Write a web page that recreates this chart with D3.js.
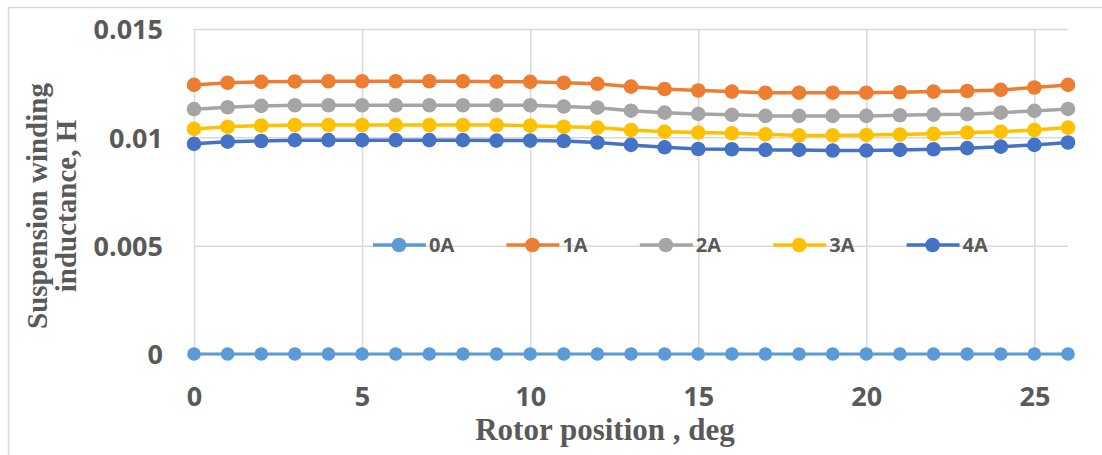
<!DOCTYPE html>
<html>
<head>
<meta charset="utf-8">
<script src="https://cdn.jsdelivr.net/npm/d3@7"></script>
<style>
  body { margin: 0; background: #fff; }
  .tick text { font-family: "Open Sans", sans-serif; font-weight: 700; fill: #595959; }
</style>
</head>
<body>
<svg id="chart" width="1102" height="455"></svg>
<script>
// rotor position, deg
const positions = [0, 1, 2, 3, 4, 5, 6, 7, 8, 9, 10, 11, 12, 13, 14, 15, 16, 17, 18, 19, 20, 21, 22, 23, 24, 25, 26];

const series_names = ["0A", "1A", "2A", "3A", "4A"];
const series_colors = ["#5b9bd5", "#ed7d31", "#a5a5a5", "#ffc000", "#4472c4"];

const values_0A = [0, 0, 0, 0, 0, 0, 0, 0, 0, 0, 0, 0, 0, 0, 0, 0, 0, 0, 0, 0, 0, 0, 0, 0, 0, 0, 0];
const values_1A = [0.01242, 0.01252, 0.01256, 0.01258, 0.01259, 0.01259, 0.01259, 0.01259, 0.01259, 0.01257, 0.01256, 0.01252, 0.01247, 0.01234, 0.01223, 0.01216, 0.01211, 0.01206, 0.01206, 0.01206, 0.01206, 0.01208, 0.01211, 0.01214, 0.01219, 0.0123, 0.01242];
const values_2A = [0.0113, 0.01139, 0.01145, 0.01148, 0.01148, 0.01148, 0.01148, 0.01148, 0.01148, 0.01148, 0.01148, 0.01142, 0.01137, 0.01123, 0.01114, 0.01108, 0.01104, 0.01099, 0.01099, 0.01099, 0.01099, 0.01102, 0.01105, 0.01107, 0.01114, 0.01122, 0.01131];
const values_3A = [0.01039, 0.01049, 0.01054, 0.01057, 0.01057, 0.01057, 0.01057, 0.01057, 0.01057, 0.01057, 0.01054, 0.01049, 0.01045, 0.01034, 0.01026, 0.01022, 0.01019, 0.01014, 0.01009, 0.01009, 0.01011, 0.01013, 0.01016, 0.01022, 0.01026, 0.01034, 0.01045];
const values_4A = [0.0097, 0.0098, 0.00983, 0.00987, 0.00987, 0.00987, 0.00987, 0.00987, 0.00987, 0.00985, 0.00985, 0.00983, 0.00976, 0.00965, 0.00954, 0.00946, 0.00945, 0.00942, 0.00942, 0.00939, 0.00939, 0.00942, 0.00945, 0.0095, 0.00957, 0.00965, 0.00976];

const x_ticks = [0, 5, 10, 15, 20, 25];
const y_ticks = [0, 0.005, 0.01, 0.015];
const y_tick_labels = ["0", "0.005", "0.01", "0.015"];

const all_values = [values_0A, values_1A, values_2A, values_3A, values_4A];

const svg = d3.select("#chart");

// outer chart border (only top/left inside the picture)
svg.append("rect")
  .attr("x", 8.5).attr("y", 7.5)
  .attr("width", 1200).attr("height", 600)
  .attr("fill", "none").attr("stroke", "#d9d9d9").attr("stroke-width", 1.5);

const x = d3.scaleLinear().domain([0, 26]).range([194, 1068]);
const y = d3.scaleLinear().domain([0, 0.015]).range([354, 29]);

// gridlines
svg.append("g")
  .attr("transform", `translate(0,${y(0)})`)
  .call(d3.axisBottom(x).tickValues(x_ticks).tickSize(-(y(0) - y(0.015))).tickFormat(""))
  .call(g => g.select(".domain").remove())
  .call(g => g.selectAll("line").attr("stroke", "#d9d9d9").attr("stroke-width", 1.5));

svg.append("g")
  .attr("transform", `translate(${x(0)},0)`)
  .call(d3.axisLeft(y).tickValues(y_ticks).tickSize(-(x(26) - x(0))).tickFormat(""))
  .call(g => g.select(".domain").remove())
  .call(g => g.selectAll("line").attr("stroke", "#d9d9d9").attr("stroke-width", 1.5));

// tick labels
svg.append("g")
  .attr("transform", `translate(${x(0)},0)`)
  .call(d3.axisLeft(y).tickValues(y_ticks).tickSize(0).tickPadding(31)
    .tickFormat((d, i) => y_tick_labels[i]))
  .call(g => g.select(".domain").remove())
  .call(g => g.selectAll("text").attr("font-size", 27).attr("dy", "0.36em"));

svg.append("g")
  .attr("transform", `translate(0,${y(0)})`)
  .call(d3.axisBottom(x).tickValues(x_ticks).tickSize(0).tickPadding(33))
  .call(g => g.select(".domain").remove())
  .call(g => g.selectAll("text").attr("font-size", 27));

// series
const line = d3.line().x((d, i) => x(positions[i])).y(d => y(d));

all_values.forEach((vals, s) => {
  const g = svg.append("g");
  g.append("path")
    .datum(vals)
    .attr("d", line)
    .attr("fill", "none")
    .attr("stroke", series_colors[s])
    .attr("stroke-width", s === 0 ? 3 : 3.5);
  g.selectAll("circle")
    .data(vals)
    .enter()
    .append("circle")
    .attr("cx", (d, i) => x(positions[i]))
    .attr("cy", d => y(d))
    .attr("r", s === 0 ? 6.8 : 7.3)
    .attr("fill", series_colors[s]);
});

// legend
const legend = svg.append("g").attr("transform", "translate(399,245)");
series_names.forEach((name, i) => {
  const item = legend.append("g").attr("transform", `translate(${i * 133.4},0)`);
  item.append("line")
    .attr("x1", -26).attr("x2", 27)
    .attr("stroke", series_colors[i]).attr("stroke-width", 3.5);
  item.append("circle").attr("r", 7.3).attr("fill", series_colors[i]);
  item.append("text")
    .attr("x", 30).attr("dy", "0.36em")
    .attr("font-family", "'Open Sans', sans-serif")
    .attr("font-weight", 700)
    .attr("font-size", 20)
    .attr("fill", "#595959")
    .text(name);
});

// axis titles
svg.append("text")
  .attr("x", 605).attr("y", 440)
  .attr("text-anchor", "middle")
  .attr("font-family", "'Liberation Serif', 'Times New Roman', serif")
  .attr("font-weight", 700)
  .attr("font-size", 31)
  .attr("fill", "#595959")
  .text("Rotor position , deg");

const ytitle = svg.append("text")
  .attr("transform", "translate(0,206) rotate(-90)")
  .attr("text-anchor", "middle")
  .attr("font-family", "'Liberation Serif', 'Times New Roman', serif")
  .attr("font-weight", 700)
  .attr("font-size", 29)
  .attr("fill", "#595959");
ytitle.append("tspan").attr("x", 0).attr("y", 47).text("Suspension winding");
ytitle.append("tspan").attr("x", 0).attr("y", 76).text("inductance, H");
</script>
</body>
</html>
